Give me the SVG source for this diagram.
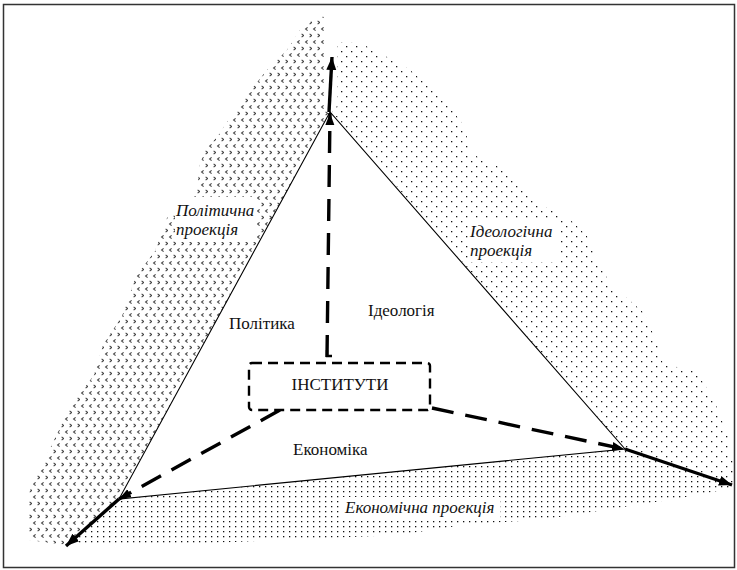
<svg xmlns="http://www.w3.org/2000/svg" width="737" height="570" viewBox="0 0 737 570">
  <style>
    .lbl { font-family: "Liberation Serif", "DejaVu Serif", serif; font-size: 17px; fill: #111; }
    .it { font-style: italic; }
    .edge { fill: none; stroke: #000; stroke-width: 1.1; }
    .thick { fill: none; stroke: #000; stroke-width: 3.4; marker-end: url(#headBig); }
    .dash { fill: none; stroke: #000; stroke-width: 3.4; stroke-dasharray: 22 12; marker-end: url(#headSmall); }
    .box { fill: #fff; stroke: #000; stroke-width: 2.4; stroke-dasharray: 10 6; }
    .knock { fill: #fff; }
  </style>
  <defs>
    <!-- chevron stipple for the political field -->
    <pattern id="chev" width="8" height="13" patternUnits="userSpaceOnUse">
      <path d="M3.6,1.4 L1.6,3 L3.6,4.6" fill="none" stroke="#444" stroke-width="1.1"/>
      <path d="M5.6,7.9 L7.6,9.5 L5.6,11.1" fill="none" stroke="#444" stroke-width="1.1"/>
    </pattern>
    <!-- staggered dots for the ideological field -->
    <pattern id="dotsA" width="10" height="10" patternUnits="userSpaceOnUse">
      <rect x="1" y="1" width="1.3" height="1.3" fill="#111"/>
      <rect x="6" y="6" width="1.3" height="1.3" fill="#111"/>
    </pattern>
    <!-- regular dot grid for the economic field -->
    <pattern id="dotsB" width="6" height="5" patternUnits="userSpaceOnUse">
      <rect x="1" y="1" width="1.3" height="1.3" fill="#111"/>
    </pattern>
    <marker id="headBig" markerUnits="userSpaceOnUse" markerWidth="14" markerHeight="12" refX="13" refY="6" orient="auto">
      <path d="M0,1 L13,6 L0,11 Z" fill="#000"/>
    </marker>
    <marker id="headSmall" markerUnits="userSpaceOnUse" markerWidth="13" markerHeight="10" refX="12" refY="5" orient="auto">
      <path d="M0,0.5 L12,5 L0,9.5 Z" fill="#000"/>
    </marker>
  </defs>

  <rect x="0" y="0" width="737" height="570" fill="#fff"/>
  <rect x="3.5" y="4.5" width="731" height="563" fill="none" stroke="#333" stroke-width="1.5"/>

  <!-- projection fields -->
  <g id="fields">
    <path fill="url(#chev)" d="M325,16 L325,110 L330,112 L119,499 L67,545 L28,540 L28,495 L38,473 L56,436 L70,407 L94,375 L103,345 L122,316 L136,276 L155,251 L167,218 L183,204 L197,189 L200,164 L205,150 L217,137 L240,103 L267,70 L287,50 L300,30 L313,20 Z"/>
    <path fill="url(#dotsA)" d="M337,42 L360,43 L376,51 L409,69 L446,102 L465,127 L470,153 L507,171 L540,204 L573,222 L587,236 L597,262 L611,284 L644,313 L658,345 L663,364 L695,371 L705,385 L714,400 L728,436 L734,469 L734,486 L625,449 L332,112 L337,106 Z"/>
    <path fill="url(#dotsB)" d="M119,499 L625,449 L731,484 L733,488 L681,498 L611,509 L540,520 L470,524 L399,535 L329,538 L235,542 L141,545 L80,545 L67,545 Z"/>
  </g>

  <!-- triangle -->
  <g id="triangle">
    <path class="edge" d="M330,112 L119,499 L625,449 Z"/>
  </g>

  <!-- axes and links -->
  <g id="connectors">
    <path class="thick" d="M329,112 L332,57"/>
    <path class="thick" d="M119,499 L66,546"/>
    <path class="thick" d="M625,449 L732,485"/>
    <path class="dash" d="M327,357 L330,113"/>
    <path d="M327,350 L327,356 L332,356" fill="none" stroke="#000" stroke-width="2.4"/>
    <path class="dash" d="M280,410 L119,499"/>
    <path class="dash" d="M432,408 L624,449"/>
  </g>

  <g id="institutions">
    <rect class="box" x="249" y="363" width="181" height="47" rx="3"/>
    <text class="lbl" x="340" y="390" text-anchor="middle">ІНСТИТУТИ</text>
  </g>

  <g id="politics">
    <text class="lbl" x="229" y="329">Політика</text>
  </g>
  <g id="ideology">
    <text class="lbl" x="368" y="316">Ідеологія</text>
  </g>
  <g id="economy">
    <text class="lbl" x="293" y="455">Економіка</text>
  </g>

  <g id="political-projection">
    <rect class="knock" x="175" y="197" width="82" height="45"/>
    <text class="lbl it" x="176" y="216">Політична</text>
    <text class="lbl it" x="176" y="235">проекція</text>
  </g>
  <g id="ideological-projection">
    <rect class="knock" x="468" y="221" width="90" height="41"/>
    <text class="lbl it" x="470" y="237">Ідеологічна</text>
    <text class="lbl it" x="470" y="256">проекція</text>
  </g>
  <g id="economic-projection">
    <rect class="knock" x="342" y="497" width="158" height="21"/>
    <text class="lbl it" x="345" y="513">Економічна проекція</text>
  </g>
</svg>
